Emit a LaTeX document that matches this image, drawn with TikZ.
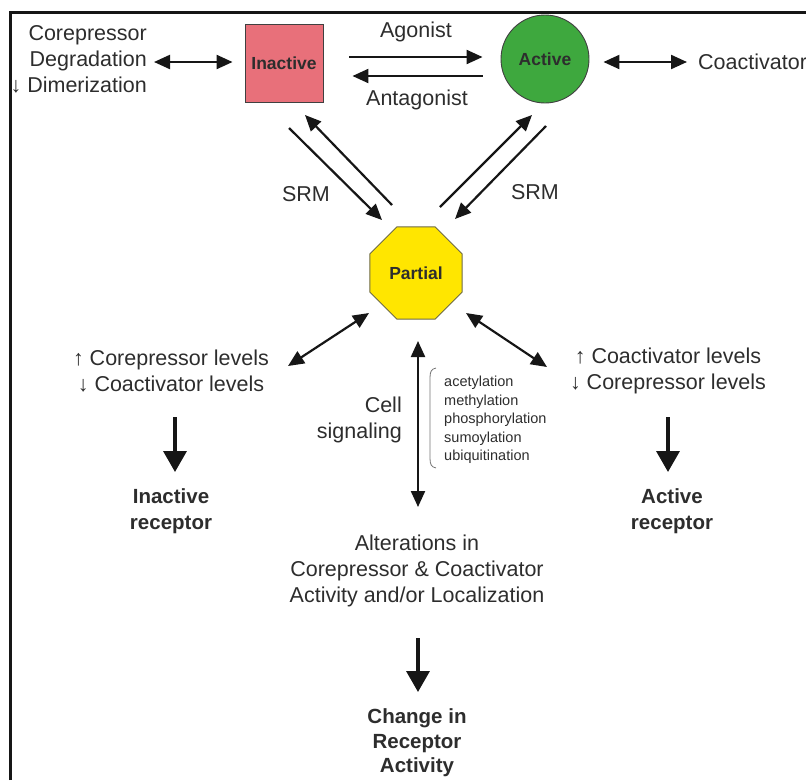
\documentclass[tikz,border=0pt]{standalone}
\usepackage{fontspec}
\setmainfont{Liberation Sans}
\usepackage{xcolor}
\usetikzlibrary{arrows.meta,shapes.geometric}

\definecolor{inactred}{RGB}{232,112,122}
\definecolor{actgreen}{RGB}{62,168,62}
\definecolor{partyellow}{RGB}{255,230,0}
\definecolor{txtgray}{RGB}{45,45,45}
\definecolor{arrgray}{RGB}{22,22,22}

\tikzset{
    lbl/.style={font=\fontsize{21.5}{26}\selectfont, text=txtgray, inner sep=0pt},
    boldlbl/.style={lbl, font=\fontsize{20.5}{25.5}\selectfont\bfseries},
    statelbl/.style={font=\fontsize{17.5}{20}\selectfont\bfseries, text=txtgray, inner sep=0pt},
    arr/.style={line width=2.2pt, draw=arrgray, -{Triangle[length=16pt,width=14pt]}},
    darr/.style={line width=2.2pt, draw=arrgray, {Triangle[length=16pt,width=14pt]}-{Triangle[length=16pt,width=14pt]}},
    bigarr/.style={line width=3.5pt, draw=arrgray, -{Triangle[length=21pt,width=23pt]}}
}

\begin{document}
\begin{tikzpicture}[x=1pt, y=-1pt]
            \useasboundingbox (0,0) rectangle (806,780);
            \draw[line width=3pt, arrgray] (10,780) -- (10,12) -- (806,12);

            \node[statelbl, draw=black!75, line width=0.9pt, fill=inactred, minimum size=78pt] (inact) at (284,63) {Inactive};
            \node[statelbl, circle, draw=black!75, line width=0.9pt, fill=actgreen, minimum size=88pt] (act) at (545,59) {Active};
            \node[statelbl, regular polygon, regular polygon sides=8, draw=black!65!yellow, line width=0.9pt, fill=partyellow, minimum size=100pt] (part) at (416,273) {Partial};

            \node[lbl, align=right, anchor=east] (corep) at (147,59) {Corepressor\\Degradation\\↓ Dimerization};
            \node[lbl, anchor=west] (coact) at (698,62) {Coactivator};
            \node[lbl] (agon) at (416,32) {Agonist};
            \node[lbl] (antag) at (417,100) {Antagonist};
            \node[lbl] (srmL) at (306,194) {SRM};
            \node[lbl] (srmR) at (535,192) {SRM};

            \node[lbl, align=center] (lvlL) at (171,371) {↑ Corepressor levels\\↓ Coactivator levels};
            \node[lbl, align=center] (lvlR) at (668,371) {↑ Coactivator levels\\↓ Corepressor levels};
            \node[boldlbl, align=center] (inrec) at (171,511) {Inactive\\receptor};
            \node[boldlbl, align=center] (actrec) at (672,511) {Active\\receptor};

            \node[lbl, align=right, anchor=east] (cellsig) at (402,420) {Cell\\signaling};
            \node[lbl, font=\fontsize{14.5}{18.5}\selectfont, align=left, anchor=west] (mods) at (444,420)
                {acetylation\\methylation\\phosphorylation\\sumoylation\\ubiquitination};
            \draw[black!55, line width=0.8pt] (436,368) .. controls (431,369) and (430,372) .. (430,378)
                -- (430,458) .. controls (430,464) and (431,467) .. (436,468);

            \node[lbl, align=center] (alter) at (417,571) {Alterations in\\Corepressor \& Coactivator\\Activity and/or Localization};
            \node[boldlbl, font=\fontsize{20.5}{24.5}\selectfont\bfseries, align=center] (chg) at (417,743) {Change in\\Receptor\\Activity};

            \draw[arr] ([shift={(26,-6)}]inact.east) -- ([shift={(-18,-2)}]act.west);
            \draw[arr] ([shift={(-18,17)}]act.west) -- ([shift={(29,13)}]inact.east);
            \draw[darr] ([shift={(7,3)}]corep.east) -- ([shift={(-12,-1)}]inact.west);
            \draw[darr] ([shift={(14,3)}]act.east) -- ([shift={(-11,0)}]coact.west);

            \draw[arr] ([shift={(5,65)}]inact.center) -- ([shift={(-34,-53)}]part.center);
            \draw[arr] ([shift={(-24,-68)}]part.center) -- ([shift={(21,52)}]inact.center);
            \draw[arr] ([shift={(24,-66)}]part.center) -- ([shift={(-13,56)}]act.center);
            \draw[arr] ([shift={(1,67)}]act.center) -- ([shift={(39,-54)}]part.center);

            \draw[darr] ([shift={(-47,40)}]part.center) -- ([shift={(117,-5)}]lvlL.center);
            \draw[darr] ([shift={(50,40)}]part.center) -- ([shift={(-121,-4)}]lvlR.center);
            \draw[darr] ([shift={(2,68)}]part.center) -- ([shift={(1,-64)}]alter.center);

            \draw[bigarr] ([shift={(4,46)}]lvlL.center) -- ([shift={(4,-39)}]inrec.center);
            \draw[bigarr] ([shift={(0,46)}]lvlR.center) -- ([shift={(-4,-39)}]actrec.center);
            \draw[bigarr] ([shift={(1,67)}]alter.center) -- ([shift={(1,-51)}]chg.center);
        \end{tikzpicture}
\end{document}
